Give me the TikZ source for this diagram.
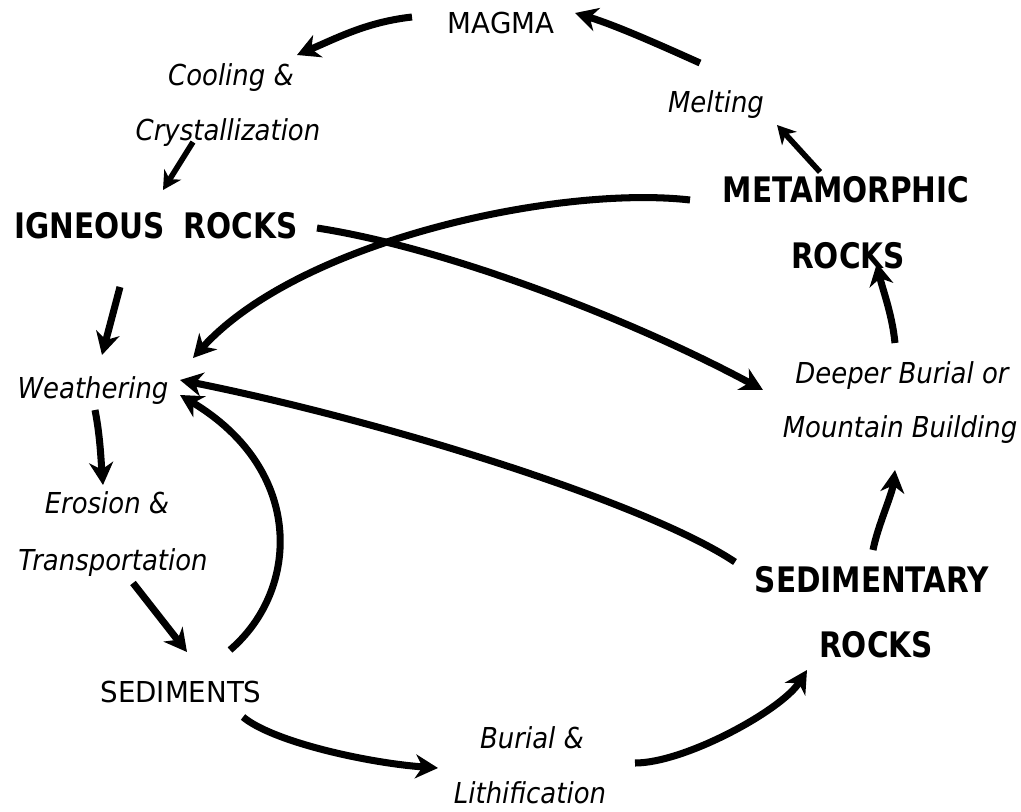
\documentclass[tikz,border=0pt]{standalone}
\usepackage{fontspec}
\setmainfont{DejaVu Sans}
\newfontfamily\stagefont{DejaVu Sans}[FakeStretch=0.96]
\newfontfamily\rockfont{DejaVu Sans}[FakeStretch=0.84]
\newfontfamily\processfont{DejaVu Sans}[FakeStretch=0.9]
\usetikzlibrary{arrows.meta,calc}

\tikzset{
  stage/.style={font=\stagefont\fontsize{20.5}{24}\selectfont, inner sep=0pt, anchor=base},
  rock/.style={font=\rockfont\bfseries\fontsize{25}{30}\selectfont, inner sep=0pt, anchor=base},
  process/.style={font=\processfont\itshape\fontsize{20.5}{24}\selectfont, inner sep=0pt, anchor=base},
  flow/.style={line width=5pt, -{Stealth[length=16pt,width=17pt,inset=5pt]}},
  thinflow/.style={line width=4pt, -{Stealth[length=13pt,width=14pt,inset=4pt]}}
}

\begin{document}
\begin{tikzpicture}[x=0.025cm, y=-0.025cm]
\useasboundingbox (0,0) rectangle (1021,811);

% Stages
\node[stage] (magma) at (501,33) {MAGMA};
\node[stage] (sediments) at (181,702) {SEDIMENTS};

% Rocks
\node[rock] (igneous) at (156,238) {IGNEOUS\hspace{0.25em} ROCKS};
\node[rock] (metaA) at (846,202) {METAMORPHIC};
\node[rock] (metaB) at (848,268) {ROCKS};
\node[rock] (sedA) at (872,592) {SEDIMENTARY};
\node[rock] (sedB) at (876,657) {ROCKS};

% Processes
\node[process] (cooling) at (231,85) {Cooling \&};
\node[process] (crystal) at (228,140) {Crystallization};
\node[process] (melting) at (716,112) {Melting};
\node[process] (weather) at (93,398) {Weathering};
\node[process] (deeper) at (902,383) {Deeper Burial or};
\node[process] (mountain) at (900,437) {Mountain Building};
\node[process] (erosion) at (107,513) {Erosion \&};
\node[process] (transport) at (113,570) {Transportation};
\node[process] (burial) at (532,748) {Burial \&};
\node[process] (lithi) at (530,803) {Lithification};

% Arrows
\draw[flow] ($(magma.base)+(-89,-16)$) .. controls +(-45,5) and +(40,-17) .. ($(cooling.base)+(66,-30)$);
\draw[thinflow] ($(crystal.base)+(-35,2)$) -- ($(igneous.base)+(7,-48)$);
\draw[thinflow] ($(metaA.base)+(-26,-30)$) -- ($(melting.base)+(61,13)$);
\draw[flow] ($(melting.base)+(-16,-49)$) .. controls +(-40,-18) and +(40,12) .. ($(magma.base)+(74,-20)$);
\draw[flow] ($(igneous.base)+(161,-10)$) .. controls +(130,20) and +(-130,-70) .. ($(deeper.base)+(-139,7)$);
\draw[flow] ($(metaA.base)+(-156,-2)$) .. controls +(-130,-15) and +(107,-118) .. ($(weather.base)+(100,-40)$);
\draw[flow] ($(igneous.base)+(-36,49)$) -- ($(weather.base)+(9,-43)$);
\draw[flow] ($(deeper.base)+(-7,-40)$) .. controls +(-3,-30) and +(5,25) .. ($(metaB.base)+(29,-5)$);
\draw[flow] ($(sedA.base)+(1,-42)$) .. controls +(5,-25) and +(-3,25) .. ($(mountain.base)+(-5,33)$);
\draw[flow] ($(sedA.base)+(-137,-30)$) .. controls +(-90,-60) and +(200,40) .. ($(weather.base)+(87,-18)$);
\draw[flow] ($(sediments.base)+(49,-52)$) .. controls +(70,-60) and +(125,75) .. ($(weather.base)+(87,-3)$);
\draw[flow] ($(weather.base)+(2,12)$) .. controls +(5,25) and +(-2,-25) .. ($(erosion.base)+(-4,-28)$);
\draw[flow] ($(transport.base)+(20,13)$) -- ($(sediments.base)+(6,-50)$);
\draw[flow] ($(sediments.base)+(62,15)$) .. controls +(30,25) and +(-70,-5) .. ($(burial.base)+(-94,20)$);
\draw[flow] ($(lithi.base)+(105,-40)$) .. controls +(50,0) and +(-25,40) .. ($(sedB.base)+(-69,13)$);

\end{tikzpicture}
\end{document}
